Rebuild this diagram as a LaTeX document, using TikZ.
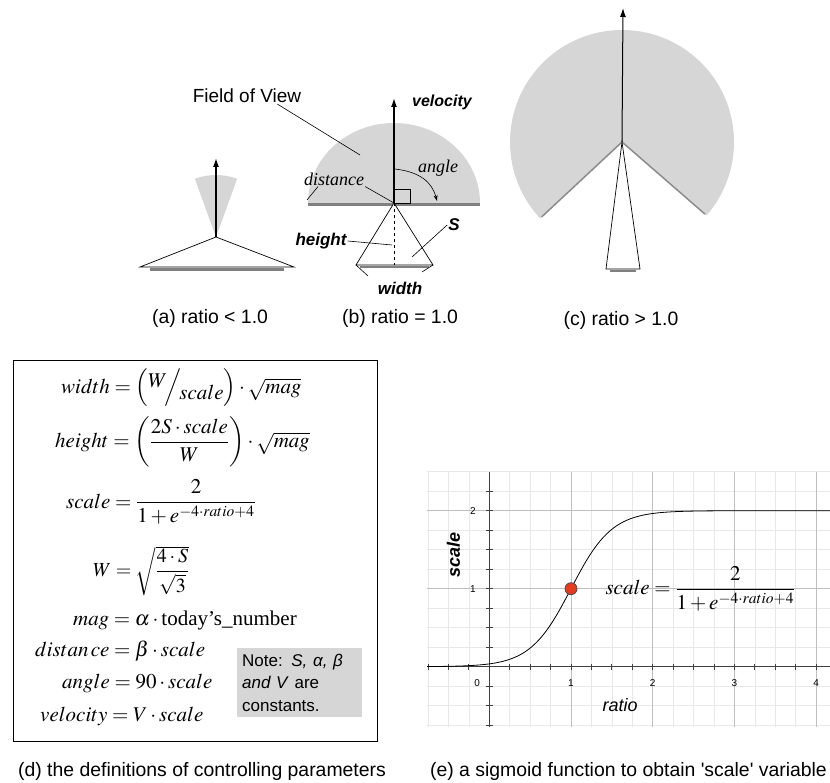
\documentclass[tikz,border=0pt]{standalone}
\usepackage{amsmath}
\usepackage{mathptmx}
\usepackage[no-math]{fontspec}
\setmainfont{Liberation Serif}
\setsansfont{Liberation Sans}
\usepackage{tikz}
\usetikzlibrary{arrows.meta}
\definecolor{dotred}{RGB}{232,58,28}

\begin{document}
\begin{tikzpicture}[x=1pt,y=1pt,
  fov/.style={fill=black!16,draw=none},
  shade/.style={draw=black!50,line width=2.5pt},
  body/.style={draw=black,line width=0.7pt,fill=white},
  vel/.style={-{Latex[length=9pt,width=6pt]},line width=1.5pt},
  lead/.style={line width=0.6pt},
  capt/.style={font=\sffamily\fontsize{19.4}{22}\selectfont},
  lbl/.style={font=\sffamily\bfseries\itshape\fontsize{17}{20}\selectfont,inner sep=1pt},
  ser/.style={font=\itshape\fontsize{18}{20}\selectfont,inner sep=1pt},
  eq/.style={font=\fontsize{21}{25}\selectfont,inner sep=0pt,anchor=west},
  minorgrid/.style={draw=black!9,line width=0.5pt},
  majorgrid/.style={draw=black!25,line width=0.7pt},
  axis/.style={draw=black!75,line width=1.1pt}]
\useasboundingbox (0,0) rectangle (830,782);

\coordinate (a0) at (216,545);
\fill[fov] (a0) -- ++(70:62) arc[start angle=70,end angle=110,radius=62] -- cycle;
\draw[body] (a0) -- (140,515) -- (294,515) -- cycle;
\draw[shade] (150,512.5) -- (284,512.5);
\draw[vel] (a0) -- (216,624);
\node[capt] (capa) at (210,464) {(a) ratio < 1.0};

\coordinate (b0) at (394,579);
\fill[fov] (308,579) arc[start angle=180,end angle=0,x radius=86,y radius=80] -- cycle;
\draw[shade] (308,577.5) -- (480,577.5);
\draw[body] (b0) -- (356,517) -- (433,517) -- cycle;
\draw[dashed,line width=0.6pt] (b0) -- (394,517);
\draw[shade,line width=2pt] (360,514.5) -- (429,514.5);
\draw[line width=0.8pt] (b0) rectangle (410,593);
\draw[vel] (b0) -- (394,684);
\node[lbl,anchor=west,font=\sffamily\bfseries\itshape\fontsize{16}{20}\selectfont] (velo) at (411,680) {velocity};
\node[ser,anchor=west] (ang) at (417,614) {angle};
\node[ser] (dist) at (334,603) {distance};
\node[lbl] (hgt) at (321,541) {height};
\node[lbl] (wid) at (400,494) {width};
\node[lbl] (sarea) at (454,557) {S};
\node[capt,inner sep=1pt,font=\sffamily\fontsize{19}{22}\selectfont] (fovl) at (247,686) {Field of View};
\coordinate (fovpt) at (360,627);
\coordinate (angpt) at (395,613);
\coordinate (angend) at (437,581);
\coordinate (fovleft) at (307,582);
\coordinate (hgtpt) at (392,537);
\coordinate (spt) at (412,525);
\coordinate (bl) at (356,517);
\coordinate (br) at (433,517);
\draw[lead] (fovl.-15) -- (fovpt);
\draw[lead,-{Stealth[length=6pt,width=4pt]}] (angpt) .. controls (420,610) and (432,600) .. (angend);
\draw[lead] (dist.south east) -- (b0);
\draw[lead] ([xshift=-16pt]dist.south) -- (fovleft);
\draw[lead] (hgt.east) -- (hgtpt);
\draw[lead] (sarea.west) -- (spt);
\draw[lead] (bl) -- ++(12,-11);
\draw[lead] (br) -- ++(-11,-7);
\node[capt] (capb) at (400,464) {(b) ratio = 1.0};

\coordinate (c0) at (622,640);
\fill[fov] (c0) -- ++(-41:112) arc[start angle=-41,end angle=223,radius=112] -- cycle;
\draw[draw=black!45,line width=1.5pt] ([shift={(223:110)}]c0) -- (c0) -- ([shift={(-41:110)}]c0);
\draw[body] (c0) -- (606,513) -- (640,513) -- cycle;
\draw[shade,line width=2pt] (610,511) -- (636,511);
\draw[vel,line width=1pt] (c0) -- (623,774);
\node[capt] (capc) at (621,462) {(c) ratio > 1.0};

\draw[line width=0.8pt] (13,41) rectangle (377,422);
\node[eq] (eqwid) at (61,394) {$width=\left(\raisebox{0.55ex}{$W$}\!\Big/\!\raisebox{-0.7ex}{$scale$}\right)\cdot\sqrt{mag}$};
\node[eq] (eqhgt) at (55,340) {$height=\left(\dfrac{2S\cdot scale}{W}\right)\cdot\sqrt{mag}$};
\node[eq] (eqscl) at (66,280) {$scale=\dfrac{2}{1+e^{-4\cdot ratio+4}}$};
\node[eq,font=\fontsize{20}{24}\selectfont] (eqw) at (93,211) {$W=\sqrt{\dfrac{4\cdot S}{\sqrt{3}}}$};
\node[eq] (eqmag) at (73,162) {$mag=\alpha\cdot\text{today's\_number}$};
\node[eq] (eqdist) at (35,131) {$distan\,ce=\beta\cdot scale$};
\node[eq] (eqang) at (62,99) {$angle=90\cdot scale$};
\node[eq] (eqvel) at (40,66) {$velocity=V\cdot scale$};
\node[fill=black!16,anchor=north west,minimum width=125pt,minimum height=69pt,
  text width=115pt,align=left,inner sep=5pt,
  font=\sffamily\fontsize{17}{22.5}\selectfont] (note) at (237,134)
  {Note: \textit{S, α, β}\\\textit{and V} are\\constants.};
\node[capt] (capd) at (202,11) {(d) the definitions of controlling parameters};

\begin{scope}[shift={(489.3,115.3)},x=81.7pt,y=78pt]
\foreach \i in {-3,...,16} \draw[minorgrid] (\i/4,-0.77) -- (\i/4,2.5);
\foreach \j in {-3,...,10} \draw[minorgrid] (-0.76,\j/4) -- (4.17,\j/4);
\foreach \i in {1,...,4} \draw[majorgrid] (\i,-0.77) -- (\i,2.5);
\foreach \j in {1,2} \draw[majorgrid] (-0.76,\j) -- (4.17,\j);
\draw[axis] (-0.76,0) -- (4.17,0);
\draw[axis] (0,-0.77) -- (0,2.5);
\foreach \t in {-3,...,16} \draw[axis,line width=0.8pt] (\t/4,-0.04) -- (\t/4,0.04);
\foreach \t in {-3,...,9} \draw[axis,line width=0.8pt] (-0.04,\t/4) -- (0.04,\t/4);
\foreach \t in {1,...,4} \node[font=\sffamily\fontsize{10}{12}\selectfont] (xl\t) at (\t,-0.21) {\t};
\node[font=\sffamily\fontsize{10}{12}\selectfont] (xl0) at (-0.15,-0.21) {0};
\foreach \t in {1,2} \node[font=\sffamily\fontsize{10}{12}\selectfont] (yl\t) at (-0.2,\t) {\t};
\draw[line width=0.8pt,domain=-0.76:4.17,samples=120] plot (\x,{2/(1+exp(-4*\x+4))});
\node[circle,draw=black!70,fill=dotred,line width=0.8pt,minimum size=12pt,inner sep=0pt] (onept) at (1,1) {};
\node[font=\sffamily\bfseries\itshape\fontsize{18}{20}\selectfont,rotate=90] (ylab) at (-0.44,1.43) {scale};
\node[font=\sffamily\itshape\fontsize{18}{20}\selectfont] (xlab) at (1.6,-0.49) {ratio};
\node[eq] (sigeq) at (1.42,1) {$scale=\dfrac{2}{1+e^{-4\cdot ratio+4}}$};
\end{scope}
\node[capt] (cape) at (628.5,11) {(e) a sigmoid function to obtain \textquotesingle scale\textquotesingle\ variable};
\end{tikzpicture}
\end{document}
